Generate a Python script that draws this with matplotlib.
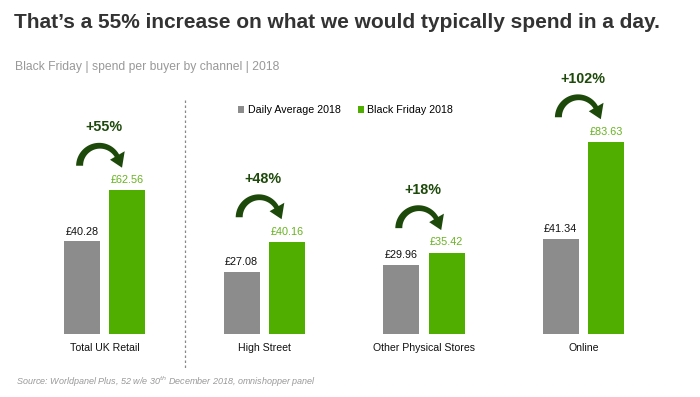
import numpy as np
import matplotlib.pyplot as plt
from matplotlib.patches import Polygon

plt.rcParams['font.family'] = ['Liberation Sans', 'DejaVu Sans']

# datos
canales = ['Total UK Retail', 'High Street', 'Other Physical Stores', 'Online']
promedio_diario = [40.28, 27.08, 29.96, 41.34]
black_friday = [62.56, 40.16, 35.42, 83.63]
incrementos = ['+55%', '+48%', '+18%', '+102%']

gris = '#8c8c8c'
verde = '#50ae00'
verde_txt = '#66b31e'
verde_osc = '#1d4a0a'

fig = plt.figure(figsize=(7, 3.97), dpi=100)
W, H = 700, 397

# escala: linea base en y=334px, ~2.30 px por libra, 159.6 px entre canales
base_px = 334
esc_y = 2.30
paso = 159.6
x0_px = 104.6
ax = fig.add_axes([0, (H - base_px) / H, 1, base_px / H])
ax.set_xlim(-x0_px / paso, (W - x0_px) / paso)
ax.set_ylim(0, base_px / esc_y)
ax.axis('off')

x = np.arange(len(canales))
ancho = 36 / paso
off = 22.7 / paso
b1 = ax.bar(x - off, promedio_diario, ancho, color=gris, label='Daily Average 2018')
b2 = ax.bar(x + off, black_friday, ancho, color=verde, label='Black Friday 2018')


def flecha_curva(cx, cy):
    # flecha en arco (semicirculo) definida en pixeles y pasada a datos
    r = 20
    th = np.linspace(180, 30, 40)
    t = np.linspace(7, 5, 40)
    rad = np.radians(th)
    ext = [((r + tt / 2) * np.cos(a), (r + tt / 2) * np.sin(a)) for a, tt in zip(rad, t)]
    inn = [((r - tt / 2) * np.cos(a), (r - tt / 2) * np.sin(a)) for a, tt in zip(rad, t)]
    a0 = np.radians(30)
    cab = [(29 * np.cos(a0), 29 * np.sin(a0)),
           (22.5 * np.cos(np.radians(-5)), 22.5 * np.sin(np.radians(-5))),
           (12 * np.cos(a0), 12 * np.sin(a0))]
    pts = ext + cab + inn[::-1]
    pts = [(cx + px / paso, cy + py / esc_y) for px, py in pts]
    ax.add_patch(Polygon(pts, closed=True, color=verde_osc, lw=0))


for i in range(len(canales)):
    ax.text(x[i] - off, promedio_diario[i] + 4.2, f'£{promedio_diario[i]:.2f}',
            ha='center', va='center', fontsize=7.8, color='#111111')
    ax.text(x[i] + off, black_friday[i] + 4.4, f'£{black_friday[i]:.2f}',
            ha='center', va='center', fontsize=7.8, color=verde_txt)
    flecha_curva(x[i] - 5 / paso, black_friday[i] + 10.6)
    ax.text(x[i] - 1 / paso, black_friday[i] + 27.4, incrementos[i], ha='center', va='center',
            fontsize=10.3, fontweight='bold', color=verde_osc)
    ax.text(x[i], -5.9, canales[i], ha='center', va='center', fontsize=7.6, color='#111111')

# separador punteado
fig.add_artist(plt.Line2D([185 / W, 185 / W], [1 - 100 / H, 1 - 368 / H],
                          color='#888888', lw=0.9, ls=(0, (2, 2))))

ax.legend(handles=[b1, b2], loc='center', bbox_to_anchor=(345.5 / W, 1 - 110 / H),
          bbox_transform=fig.transFigure, ncol=2, frameon=False, fontsize=7.7,
          handlelength=0.6, handleheight=0.6, handletextpad=0.3, columnspacing=1.6)

fig.text(14 / W, 1 - 22 / H, 'That’s a 55% increase on what we would typically spend in a day.',
         fontsize=15, fontweight='bold', color='#333333', va='center', ha='left')
fig.text(15 / W, 1 - 67 / H, 'Black Friday | spend per buyer by channel | 2018',
         fontsize=8.75, color='#999999', va='center', ha='left')
fig.text(16 / W, 1 - 382 / H, 'Source: Worldpanel Plus, 52 w/e 30$^{th}$ December 2018, omnishopper panel',
         fontsize=6.5, style='italic', color='#999999', va='center', ha='left')

fig.savefig('out.png', dpi=100)
